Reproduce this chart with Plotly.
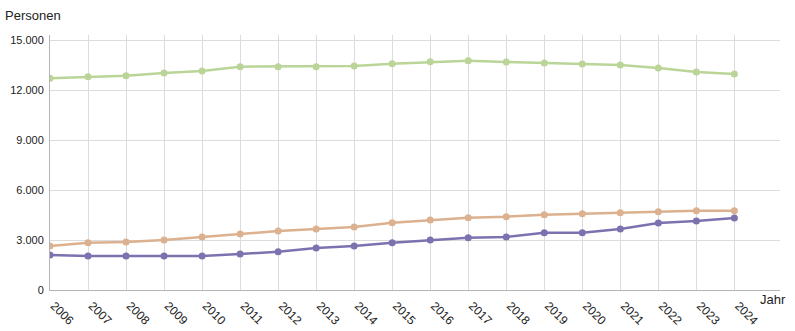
import plotly.graph_objects as go

years = list(range(2006, 2025))
green = [12700, 12800, 12860, 13020, 13140, 13400, 13400, 13400, 13440, 13580, 13690,
         13760, 13680, 13620, 13560, 13500, 13320, 13080, 12960]
tan = [2640, 2840, 2880, 3000, 3180, 3360, 3540, 3660, 3780, 4040, 4200,
       4340, 4400, 4520, 4580, 4640, 4700, 4760, 4760]
purple = [2100, 2040, 2040, 2040, 2040, 2160, 2300, 2520, 2640, 2840, 3000,
          3140, 3180, 3440, 3440, 3660, 4020, 4140, 4320]
y_ticks = [0, 3000, 6000, 9000, 12000, 15000]
y_tick_labels = ["0", "3.000", "6.000", "9.000", "12.000", "15.000"]

series = [
    ("Grün", green, "#bad597"),
    ("Braun", tan, "#dbb18f"),
    ("Lila", purple, "#7d72b0"),
]

fig = go.Figure()
for name, vals, col in series:
    fig.add_trace(go.Scatter(
        x=years, y=vals, mode="lines+markers", name=name,
        line=dict(color=col, width=2.5),
        marker=dict(color=col, size=7),
        hoverinfo="x+y",
    ))

font = "Liberation Sans, Arial, sans-serif"
fig.update_layout(
    width=795, height=331,
    margin=dict(l=50, r=15, t=35, b=41, autoexpand=False),
    paper_bgcolor="white", plot_bgcolor="white",
    showlegend=False,
    font=dict(family=font, size=12, color="#222"),
    xaxis=dict(
        range=[2006, 2025.2],
        tickvals=years, ticktext=[str(y) for y in years],
        tickangle=45, automargin=False,
        showgrid=True, gridcolor="#dcdcdc", gridwidth=1,
        showline=True, linecolor="#b4b4b4", linewidth=1,
        zeroline=False, ticks="", ticklen=0, ticklabelstandoff=3,
        ticklabelshift=4,
        tickfont=dict(size=12, color="#222"),
    ),
    yaxis=dict(
        range=[0, 15300], automargin=False,
        tickvals=y_ticks, ticktext=y_tick_labels,
        showgrid=True, gridcolor="#dcdcdc", gridwidth=1,
        showline=True, linecolor="#b4b4b4", linewidth=1,
        zeroline=False, ticks="", ticklen=0, ticklabelstandoff=3,
        tickfont=dict(size=11, color="#222"),
    ),
    annotations=[
        dict(text="Personen", xref="paper", yref="paper", x=-50/730, y=1+35/255,
             xanchor="left", yanchor="top", yshift=-6, xshift=3, showarrow=False,
             font=dict(size=13, color="#222")),
        dict(text="Jahr", xref="paper", yref="paper", x=1, y=0,
             xanchor="right", yanchor="top", yshift=0, xshift=8, showarrow=False,
             font=dict(size=13, color="#222")),
    ],
)

fig.write_html("out.html")
